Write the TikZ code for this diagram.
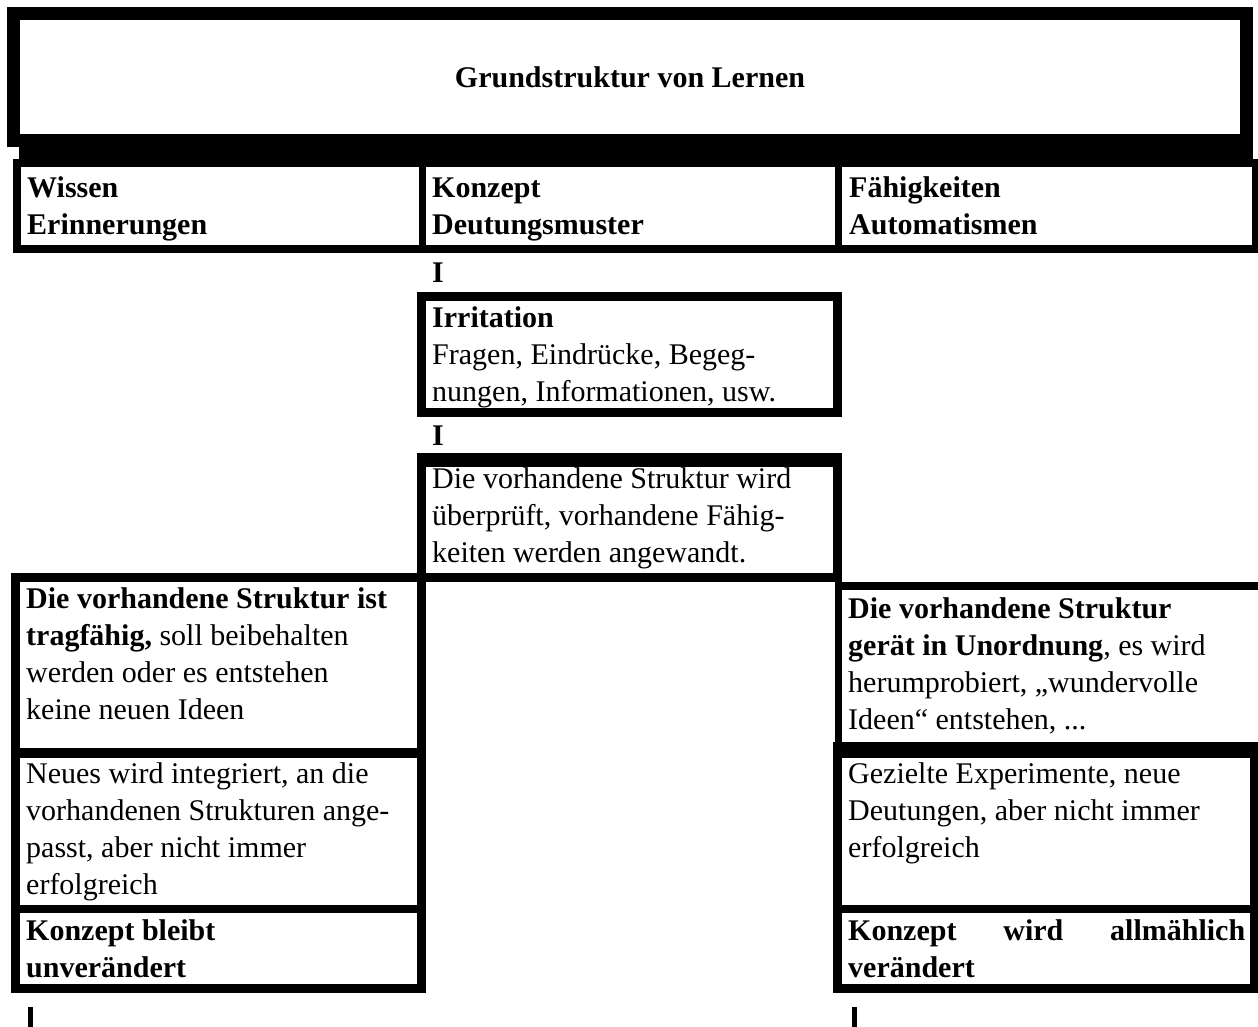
\documentclass[tikz,border=0pt]{standalone}
\usepackage{fontspec}
\setmainfont{Liberation Serif}
\begin{document}
\begin{tikzpicture}[x=1pt,y=-1pt,
  txt/.style={anchor=base west, inner sep=0pt, align=flush left, text width=420pt, font=\fontsize{30}{37}\selectfont},
  btxt/.style={txt, font=\fontsize{30}{37}\selectfont\bfseries},
  frame/.style={draw=black, line width=9pt},
  band/.style={fill=black},
  link/.style={draw=black, line width=5pt}]
\useasboundingbox (0,0) rectangle (1258,1027);
\clip (0,0) rectangle (1258,1027);
% title
\draw[line width=13pt] (13.5,13.5) rectangle (1246.5,140.5);
\fill[band] (19,140) rectangle (1253,165);
\node[anchor=base, inner sep=0pt, font=\fontsize{30}{37}\selectfont\bfseries] (title) at (630,88) {Grundstruktur von Lernen};
% header row
\draw[line width=8pt] (17,163) rectangle (1256,249);
\draw[line width=7pt] (422.5,163) -- (422.5,249);
\draw[line width=7pt] (838.5,163) -- (838.5,249);
\node[btxt] (h1) at (27,198) {Wissen\\Erinnerungen};
\node[btxt] (h2) at (432,198) {Konzept\\Deutungsmuster};
\node[btxt] (h3) at (849,198) {Fähigkeiten\\Automatismen};
% middle column
\node[btxt] (i1) at (432,282) {I};
\draw[frame] (421.5,296) rectangle (837.5,412.5);
\node[txt] (irr) at (432,327) {\textbf{Irritation}\\Fragen, Eindrücke, Begeg-\\nungen, Informationen, usw.};
\node[btxt] (i2) at (432,445) {I};
\fill[band] (417,453) rectangle (842,467);
\draw[frame] (421.5,460) rectangle (837.5,577.5);
\node[txt] (check) at (432,488) {Die vorhandene Struktur wird\\überprüft, vorhandene Fähig-\\keiten werden angewandt.};
% left column
\draw[frame] (15.5,577.5) rectangle (421.5,988.5);
\fill[band] (11,748) rectangle (426,758);
\fill[band] (11,905) rectangle (426,913);
\node[txt] (l1) at (26,608) {\textbf{Die vorhandene Struktur ist}\\\textbf{tragfähig,} soll beibehalten\\werden oder es entstehen\\keine neuen Ideen};
\node[txt] (l2) at (26,783) {Neues wird integriert, an die\\vorhandenen Strukturen ange-\\passt, aber nicht immer\\erfolgreich};
\node[btxt] (l3) at (26,940) {Konzept bleibt\\unverändert};
% right column
\fill[band] (835,573) rectangle (842,758);
\fill[band] (835,582) rectangle (1258,590);
\fill[band] (833,742) rectangle (1258,758);
\draw[frame] (837.5,750) rectangle (1254,988.5);
\fill[band] (833,905) rectangle (1258,913);
\node[txt] (r1) at (848,618) {\textbf{Die vorhandene Struktur}\\\textbf{gerät in Unordnung}, es wird\\herumprobiert, „wundervolle\\Ideen“ entstehen, ...};
\node[txt] (r2) at (848,783) {Gezielte Experimente, neue\\Deutungen, aber nicht immer\\erfolgreich};
\node[btxt] (r3) at (848,940) {\hbox to 397pt{Konzept\hfill wird\hfill allmählich}\\verändert};
% bottom connectors
\coordinate (la) at (30.5,1007);
\coordinate (lb) at (30.5,1032);
\coordinate (ra) at (854.5,1007);
\coordinate (rb) at (854.5,1032);
\draw[link] (la) -- (lb);
\draw[link] (ra) -- (rb);
\end{tikzpicture}
\end{document}
